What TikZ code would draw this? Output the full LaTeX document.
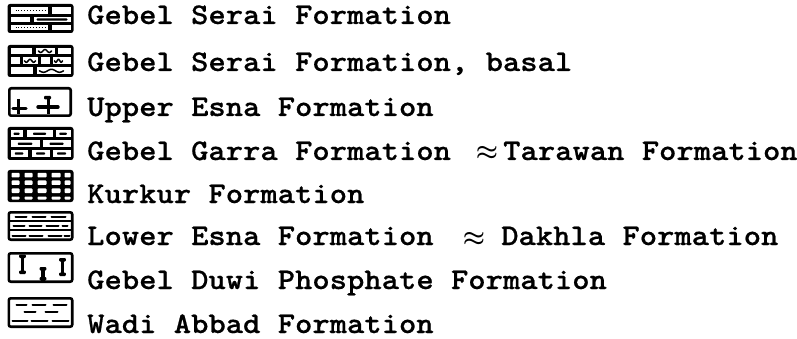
\documentclass[tikz,border=0pt]{standalone}
\usepackage{fontspec}
\newfontfamily\cour{lmmonolt10-bold}[Extension=.otf, FakeStretch=1.1, FakeBold=0.6]
\newcommand\sqg[3]{\draw[line width=1.5pt, line cap=round] plot[domain=0:1, samples=24] ({#1+#3*\x},{#2+1.5*sin(540*\x)});}
\newcommand\bone[3]{%
  \fill (#1-1.8,#2) rectangle (#1+1.8,#3);
  \fill[rounded corners=1pt] (#1-3.3,#2) rectangle (#1+3.3,#2+3.5);
  \fill[rounded corners=1pt] (#1-3.3,#3-3.5) rectangle (#1+3.3,#3);}
\tikzset{
  lbl/.style={anchor=base west, inner sep=0pt, font=\cour\fontsize{30}{34}\selectfont},
  apx/.style={anchor=base, inner sep=0pt, font=\fontsize{30}{34}\selectfont\boldmath},
  wbox/.style={draw=black, fill=white, line width=2.6pt, rounded corners=2pt},
  bbox/.style={fill=black, rounded corners=2.5pt},
  wc/.style={fill=white},
  dsh/.style={line width=2pt, line cap=round},
}
\begin{document}
\begin{tikzpicture}[x=1pt,y=-1pt]
\useasboundingbox (0,0) rectangle (797,339);

% 1 Gebel Serai
\begin{scope}[shift={(7.5,4)}]
  \path[bbox] (0,0) rectangle (66,29);
  \fill[wc] (3,3) rectangle (40,10);  \fill[wc] (44,3) rectangle (63,10);
  \fill[wc] (3,13) rectangle (22,18); \fill[wc] (26,13) rectangle (63,18);
  \fill[wc] (3,21) rectangle (40,26); \fill[wc] (44,21) rectangle (63,26);
  \draw[dotted, line width=0.9pt] (8,6.5) -- (38,6.5);
  \draw[dotted, line width=0.9pt] (8,23.5) -- (38,23.5);
  \fill[rounded corners=1pt] (29,14.3) rectangle (60,16.7);
\end{scope}

% 2 Gebel Serai basal
\begin{scope}[shift={(7.5,45)}]
  \path[bbox] (0,0) rectangle (66,32);
  \fill[wc] (3,3) rectangle (24,9);  \fill[wc] (28,3) rectangle (47,9); \fill[wc] (50,3) rectangle (63,9);
  \fill[wc] (3,12.5) rectangle (12,19); \fill[wc] (15,12.5) rectangle (30,19);
  \fill[wc] (33,12.5) rectangle (42,19); \fill[wc] (45,12.5) rectangle (63,19);
  \fill[wc] (3,22.5) rectangle (25,29); \fill[wc] (29,22.5) rectangle (63,29);
  \sqg{31}{6}{13}
  \sqg{17}{15.8}{11}
  \sqg{47}{15.8}{8}
  \sqg{32}{25.8}{24}
\end{scope}

% 3 Upper Esna
\begin{scope}[shift={(8,87)}]
  \path[wbox] (1.3,1.3) rectangle (62.7,28.7);
  \draw[line width=3.6pt] (10.5,12) -- (10.5,27.5);
  \draw[line width=3.4pt, line cap=round] (5,21.5) -- (18,21.5);
  \draw[line width=3.6pt] (40.5,9) -- (40.5,27.5);
  \draw[line width=3.4pt, line cap=round] (30,20) -- (50,20);
  \fill[rounded corners=1pt] (36,9) rectangle (43,12.5);
\end{scope}

% 4 Gebel Garra
\begin{scope}[shift={(7.5,127)}]
  \path[bbox] (0,0) rectangle (66,33);
  \foreach \a/\b in {3/15,19/45,48/63} {\fill[wc] (\a,3) rectangle (\b,10.5);
     \fill[rounded corners=0.8pt] ({\a+(\b-\a)*0.25},5.6) rectangle ({\b-(\b-\a)*0.25},7.9);}
  \foreach \a/\b in {3/32,35/63} {\fill[wc] (\a,13) rectangle (\b,20.5);
     \fill[rounded corners=0.8pt] ({\a+(\b-\a)*0.25},15.6) rectangle ({\b-(\b-\a)*0.25},17.9);}
  \foreach \a/\b in {3/20,24/42,45/63} {\fill[wc] (\a,23) rectangle (\b,30);
     \fill[rounded corners=0.8pt] ({\a+(\b-\a)*0.25},25.4) rectangle ({\b-(\b-\a)*0.25},27.7);}
\end{scope}

% 5 Kurkur
\begin{scope}[shift={(7.5,170)}]
  \path[bbox] (0,0) rectangle (66,32);
  \foreach \a/\b in {4/12,17/25,30/39,44/53,57/63}
    \foreach \c/\d in {2.8/7.5,10.5/15,18.5/23,26.5/29.5}
      \fill[wc, rounded corners=0.8pt] (\a,\c) rectangle (\b,\d);
\end{scope}

% 6 Lower Esna
\begin{scope}[shift={(7.5,211)}]
  \path[wbox] (1.3,1.3) rectangle (64.7,28.7);
  \draw[line width=2.2pt] (1.3,10.3) -- (64.7,10.3);
  \draw[line width=2.2pt] (1.3,19.3) -- (64.7,19.3);
  \foreach \a/\b in {8/19,25/38,44/58} \draw[dsh] (\a,6) -- (\b,6);
  \foreach \a/\b in {6/17,22/34,39/51,55/60} \draw[dsh] (\a,14.8) -- (\b,14.8);
  \foreach \a/\b in {5/18,22/35,41/54,57/62} \draw[dsh] (\a,24.5) -- (\b,24.5);
\end{scope}

% 7 Gebel Duwi
\begin{scope}[shift={(7.5,252)}]
  \path[wbox] (1.3,1.3) rectangle (64.7,29.7);
  \bone{15}{2.5}{22}
  \bone{35.5}{15}{28.5}
  \bone{55}{6}{24}
\end{scope}

% 8 Wadi Abbad
\begin{scope}[shift={(7.5,297)}]
  \path[wbox] (1.3,1.3) rectangle (64.7,29.7);
  \foreach \a/\b in {9/19,25/38,46/59} \draw[dsh] (\a,8) -- (\b,8);
  \foreach \a/\b in {17/28,38/50} \draw[dsh] (\a,15) -- (\b,15);
  \foreach \a/\b in {5/20,24/40,45/61} \draw[dsh] (\a,24) -- (\b,24);
\end{scope}

% labels
\node[lbl] (t1) at (87,24) {Gebel Serai Formation};
\node[lbl] (t2) at (87,71) {Gebel Serai Formation, basal};
\node[lbl] (t3) at (87,116) {Upper Esna Formation};
\node[lbl] (t4) at (87,160) {Gebel Garra Formation};
\node[apx] (a4) at (487,160) {$\approx$};
\node[lbl] (t4b) at (503,160) {Tarawan Formation};
\node[lbl] (t5) at (87,203) {Kurkur Formation};
\node[lbl] (t6) at (87,245) {Lower Esna Formation};
\node[apx] (a6) at (474,245) {$\approx$};
\node[lbl] (t6b) at (501,245) {Dakhla Formation};
\node[lbl] (t7) at (87,289) {Gebel Duwi Phosphate Formation};
\node[lbl] (t8) at (87,333) {Wadi Abbad Formation};
\end{tikzpicture}
\end{document}
